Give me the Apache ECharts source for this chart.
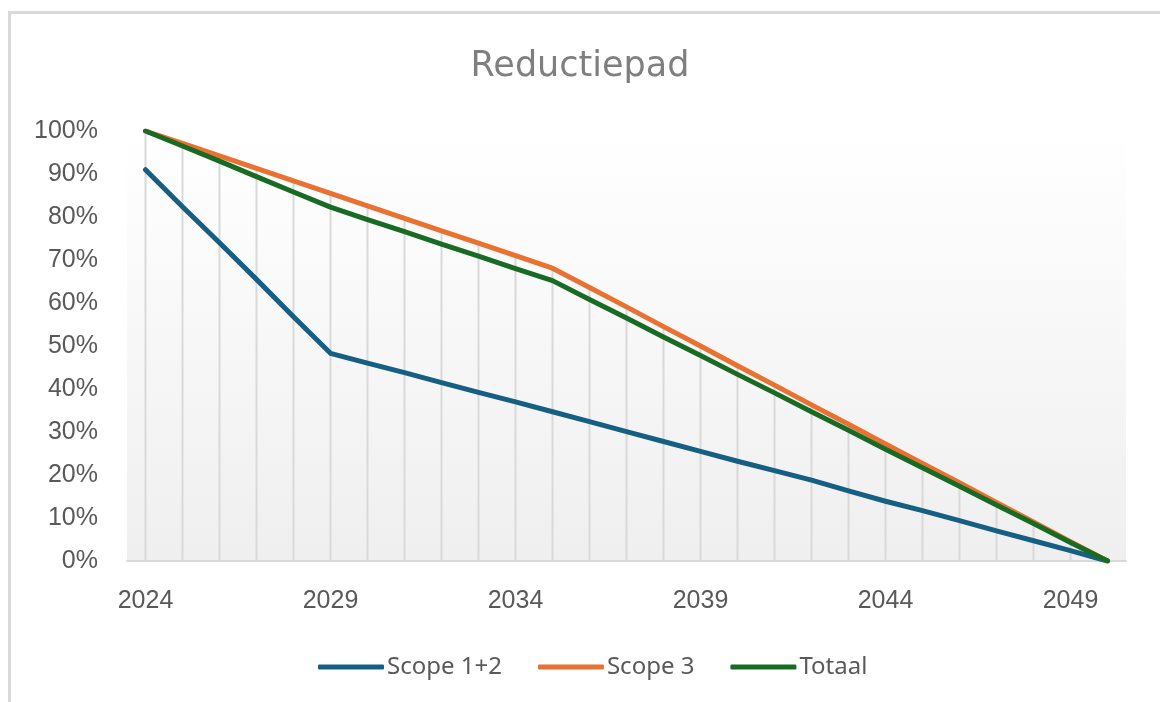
<!DOCTYPE html>
<html>
<head>
<meta charset="utf-8">
<script src="https://cdn.jsdelivr.net/npm/echarts@6/dist/echarts.min.js"></script>
<style>
  html, body { margin: 0; padding: 0; background: #fff; }
  #chart { width: 1160px; height: 702px; }
</style>
</head>
<body>
<div id="chart"></div>
<script>
// jaren
const years = ['2024', '2025', '2026', '2027', '2028', '2029', '2030', '2031', '2032',
  '2033', '2034', '2035', '2036', '2037', '2038', '2039', '2040', '2041', '2042',
  '2043', '2044', '2045', '2046', '2047', '2048', '2049', '2050'];

// waarden in procent
const scope12 = [91, 82.4, 74, 65.5, 56.8, 48.3, 46, 43.8, 41.5, 39.2, 37, 34.7, 32.4,
  30.1, 27.8, 25.5, 23.2, 21, 18.8, 16.3, 13.9, 11.7, 9.4, 7, 4.7, 2.4, 0];
const scope3 = [100, 97.1, 94.2, 91.3, 88.4, 85.5, 82.6, 79.7, 76.8, 73.9, 71, 68.1,
  63.6, 59.1, 54.5, 50, 45.4, 40.9, 36.3, 31.8, 27.2, 22.7, 18.2, 13.6, 9.1, 4.5, 0];
const totaal = [100, 96.5, 93, 89.4, 85.8, 82.3, 79.4, 76.6, 73.7, 70.9, 68, 65.2,
  60.8, 56.5, 52.1, 47.8, 43.4, 39.1, 34.7, 30.4, 26, 21.7, 17.4, 13, 8.7, 4.3, 0];

const yTicks = [0, 10, 20, 30, 40, 50, 60, 70, 80, 90, 100];

// loodlijnen (drop lines) tot het hoogste punt per jaar
const dropLines = years.map((y, i) => Math.max(scope12[i], scope3[i], totaal[i]));

const chart = echarts.init(document.getElementById('chart'));

const lineSeries = (name, data, color) => ({
  name: name,
  type: 'line',
  data: data,
  symbol: 'none',
  z: 3,
  lineStyle: { color: color, width: 5, cap: 'round', join: 'round' },
  itemStyle: { color: color }
});

const option = {
  animation: false,
  backgroundColor: '#ffffff',
  graphic: [{
    type: 'rect',
    shape: { x: 9.5, y: 12.5, width: 1200, height: 760 },
    style: { fill: 'none', stroke: '#d9d9d9', lineWidth: 3 },
    silent: true
  }],
  title: {
    text: 'Reductiepad',
    left: 'center',
    top: 49,
    padding: 0,
    textStyle: {
      fontFamily: 'DejaVu Sans',
      fontSize: 35,
      fontWeight: 'normal',
      color: '#7f7f7f'
    }
  },
  legend: {
    data: ['Scope 1+2', 'Scope 3', 'Totaal'],
    left: 313,
    top: 650,
    icon: 'roundRect',
    itemWidth: 66,
    itemHeight: 5,
    itemGap: 36,
    textStyle: { fontFamily: 'Noto Sans', fontSize: 24, color: '#595959', padding: [0, 0, 0, -2] }
  },
  grid: {
    left: 127,
    right: 34,
    top: 131,
    bottom: 141,
    show: true,
    borderWidth: 0,
    backgroundColor: new echarts.graphic.LinearGradient(0, 0, 0, 1, [
      { offset: 0, color: '#ffffff' },
      { offset: 1, color: '#efefef' }
    ])
  },
  xAxis: {
    type: 'category',
    data: years,
    boundaryGap: true,
    axisLine: { lineStyle: { color: '#d9d9d9', width: 2 } },
    axisTick: { show: false },
    splitLine: { show: false },
    axisLabel: {
      interval: 4,
      margin: 28,
      fontFamily: 'Liberation Sans',
      fontSize: 25,
      color: '#595959'
    }
  },
  yAxis: {
    type: 'value',
    min: yTicks[0],
    max: yTicks[yTicks.length - 1],
    interval: 10,
    axisLine: { show: false },
    axisTick: { show: false },
    splitLine: { show: false },
    axisLabel: {
      margin: 29,
      formatter: '{value}%',
      fontFamily: 'Liberation Sans',
      fontSize: 25,
      color: '#595959'
    }
  },
  series: [
    {
      name: 'drop',
      type: 'bar',
      data: dropLines,
      barWidth: 2,
      z: 1,
      silent: true,
      itemStyle: { color: '#d9d9d9' }
    },
    lineSeries('Scope 1+2', scope12, '#156082'),
    lineSeries('Scope 3', scope3, '#e97132'),
    lineSeries('Totaal', totaal, '#196b24')
  ]
};

chart.setOption(option);
</script>
</body>
</html>
